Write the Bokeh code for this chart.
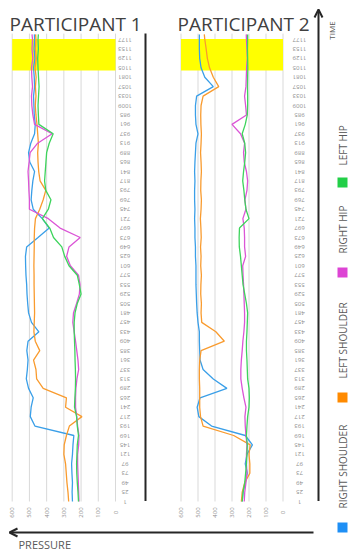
from math import pi
from bokeh.plotting import figure
from bokeh.models import Range1d, Arrow, OpenHead
from bokeh.core.properties import value
from bokeh.embed import file_html
from bokeh.resources import INLINE

# ---------------- data ----------------
time = [1, 25, 49, 73, 97, 121, 145, 169, 193, 217, 241, 265, 289, 313, 337, 361,
        385, 409, 433, 457, 481, 505, 529, 553, 577, 601, 625, 649, 673, 697, 721,
        745, 769, 793, 817, 841, 865, 889, 913, 937, 961, 985, 1009, 1033, 1057,
        1081, 1105, 1129, 1153, 1177, 1190]

time_ticks = [1, 25, 49, 73, 97, 121, 145, 169, 193, 217, 241, 265, 289, 313, 337,
              361, 385, 409, 433, 457, 481, 505, 529, 553, 577, 601, 625, 649, 673,
              697, 721, 745, 769, 793, 817, 841, 865, 889, 913, 937, 961, 985, 1009,
              1033, 1057, 1081, 1105, 1129, 1153, 1177]
pressure_ticks = [0, 100, 200, 300, 400, 500, 600]

series_names = ["RIGHT SHOULDER", "LEFT SHOULDER", "RIGHT HIP", "LEFT HIP"]
line_colors = ["#3A9FE8", "#F99B2E", "#DB55D6", "#3DD45C"]
key_colors = ["#1E8FF5", "#FF8A00", "#DD44D4", "#22CF48"]

highlight_time = [1098, 1178]
titles = ["PARTICIPANT 1", "PARTICIPANT 2"]

p1_right_shoulder = [250, 252, 250, 253, 255, 250, 247, 242, 468, 495, 490, 478, 505,
                     518, 512, 508, 515, 508, 445, 488, 505, 510, 514, 516, 520, 522,
                     523, 516, 450, 385, 425, 478, 490, 486, 480, 470, 498, 505, 492,
                     470, 466, 472, 474, 476, 470, 472, 476, 468, 473, 470, 471]
p1_left_shoulder = [272, 276, 282, 286, 290, 300, 298, 285, 268, 195, 290, 285, 420,
                    458, 462, 476, 440, 466, 474, 472, 470, 471, 472, 473, 473, 474,
                    473, 472, 472, 470, 465, 440, 420, 405, 438, 446, 450, 452, 448,
                    452, 456, 462, 466, 462, 465, 461, 467, 460, 465, 462, 464]
p1_right_hip = [212, 214, 216, 218, 220, 220, 214, 212, 220, 225, 232, 232, 230, 224,
                214, 218, 225, 232, 240, 248, 244, 226, 210, 206, 215, 262, 284, 270,
                205, 322, 390, 500, 500, 503, 505, 508, 502, 496, 452, 368, 470, 480,
                486, 488, 482, 486, 488, 480, 485, 482, 485]
p1_left_hip = [215, 218, 222, 225, 226, 224, 222, 215, 222, 226, 238, 236, 233, 232,
               233, 235, 236, 238, 240, 240, 235, 222, 200, 210, 222, 270, 295, 312,
               360, 382, 425, 390, 375, 405, 412, 408, 404, 400, 385, 362, 445, 448,
               450, 447, 444, 447, 450, 452, 448, 450, 448]

p2_right_shoulder = [240, 235, 222, 210, 222, 212, 180, 222, 420, 495, 505, 488, 330,
                     410, 470, 488, 490, 492, 492, 500, 505, 508, 510, 512, 512, 512,
                     515, 515, 518, 518, 520, 518, 520, 520, 518, 520, 518, 515, 512,
                     500, 512, 515, 515, 508, 410, 460, 482, 490, 492, 492, 492]
p2_left_shoulder = [245, 240, 225, 195, 195, 200, 193, 290, 470, 485, 490, 490, 490,
                    492, 492, 490, 482, 345, 395, 478, 482, 480, 484, 483, 480, 484,
                    482, 485, 481, 483, 486, 482, 480, 484, 483, 480, 482, 485, 482,
                    480, 483, 484, 482, 470, 378, 410, 432, 445, 452, 460, 463]
p2_right_hip = [228, 225, 218, 212, 215, 215, 212, 218, 222, 224, 218, 230, 240, 248,
                248, 245, 240, 236, 230, 226, 226, 228, 230, 232, 235, 237, 220, 226,
                226, 228, 236, 218, 224, 212, 208, 215, 228, 232, 226, 250, 300, 215,
                220, 226, 218, 216, 214, 210, 212, 215, 216]
p2_left_hip = [240, 235, 225, 220, 215, 212, 210, 215, 212, 208, 200, 198, 200, 208,
               210, 212, 215, 215, 212, 210, 208, 215, 225, 235, 240, 245, 250, 257,
               258, 256, 200, 218, 225, 230, 237, 232, 225, 220, 225, 240, 222, 210,
               208, 208, 209, 208, 207, 208, 209, 208, 208]

panels = [
    [p1_right_shoulder, p1_left_shoulder, p1_right_hip, p1_left_hip],
    [p2_right_shoulder, p2_left_shoulder, p2_right_hip, p2_left_hip],
]

# ---------------- layout (screen pixels) ----------------
# Bokeh's standalone page template sets a zero body margin, so the figure
# starts at the top-left corner of the window.
W, H = 351, 552
PX0, PX1 = 0, W
PY0, PY1 = 0, H

FONT = value("Open Sans")


def x_range_for(v_left, px_left, v_right, px_right):
    k = (v_right - v_left) / (px_right - px_left)
    return Range1d(start=v_left + (PX0 - px_left) * k, end=v_left + (PX1 - px_left) * k)


def y_range_for(v_bot, py_bot, v_top, py_top):
    k = (v_top - v_bot) / (py_top - py_bot)
    return Range1d(start=v_bot + (PY1 - py_bot) * k, end=v_bot + (PY0 - py_bot) * k)


p = figure(width=W, height=H, output_backend="svg", toolbar_location=None,
           x_axis_location=None, y_axis_location=None, min_border=0,
           x_range=Range1d(PX0, PX1), y_range=Range1d(PY1, PY0),
           outline_line_color=None, background_fill_color="white")
p.grid.visible = False

# pressure scales for the two panels: (600 at left px, 0 at right px)
panel_px = [(11.7, 115.0), (180.5, 282.5)]
p.extra_x_ranges = {
    "p1": x_range_for(600, panel_px[0][0], 0, panel_px[0][1]),
    "p2": x_range_for(600, panel_px[1][0], 0, panel_px[1][1]),
}
p.extra_y_ranges = {"t": y_range_for(1, 501.0, 1177, 39.0)}

t_top = time[-1] + 2
label_x = [124.5, 299.0]
title_x = [9, 177]

for i, (rng, series) in enumerate(zip(["p1", "p2"], panels)):
    # vertical gridlines
    p.segment(x0=pressure_ticks, x1=pressure_ticks,
              y0=[time[0]] * len(pressure_ticks), y1=[t_top] * len(pressure_ticks),
              x_range_name=rng, y_range_name="t", line_color="#D9D9D9", line_width=1)
    # yellow highlight
    p.quad(left=[pressure_ticks[-1]], right=[pressure_ticks[0]],
           bottom=[highlight_time[0]], top=[highlight_time[1]],
           x_range_name=rng, y_range_name="t", fill_color="#FFFF00", line_color=None)
    # data lines
    for vals, col in zip(series, line_colors):
        p.line(x=vals, y=time, x_range_name=rng, y_range_name="t",
               line_color=col, line_width=1.3)
    # time tick labels (upside down)
    p.text(x=[label_x[i]] * len(time_ticks), y=time_ticks,
           text=[str(t) for t in time_ticks], y_range_name="t",
           angle=pi, text_align="center", text_baseline="middle",
           text_font=FONT, text_font_size="6px", text_color="#8C8C8C")
    # pressure tick labels (rotated)
    p.text(x=pressure_ticks, y=[512] * len(pressure_ticks),
           text=[str(v) for v in pressure_ticks], x_range_name=rng,
           angle=pi / 2, text_align="center", text_baseline="middle",
           text_font=FONT, text_font_size="6px", text_color="#8C8C8C")
    # title
    p.text(x=[title_x[i]], y=[23], text=[titles[i]], text_align="left",
           text_baseline="alphabetic", text_font=FONT, text_font_size="19px",
           text_color="#404040")

AX = "#262626"
# time axis of panel 1 (plain line)
p.segment(x0=[145], y0=[500.5], x1=[145], y1=[33], line_color=AX, line_width=2)
# time axis arrow of panel 2
p.add_layout(Arrow(end=OpenHead(size=8, line_width=2, line_color=AX),
                   x_start=318, y_start=500.5, x_end=318, y_end=9,
                   line_color=AX, line_width=2))
# pressure arrow
p.add_layout(Arrow(end=OpenHead(size=8, line_width=2, line_color=AX),
                   x_start=313, y_start=532, x_end=9, y_end=532,
                   line_color=AX, line_width=2))

p.text(x=[18], y=[544], text=["PRESSURE"], text_align="left", text_baseline="middle",
       text_font=FONT, text_font_size="11px", text_color="#595959")
p.text(x=[331], y=[30], text=["TIME"], angle=pi / 2, text_align="center",
       text_baseline="middle", text_font=FONT, text_font_size="8px",
       text_color="#595959")

# legend (rotated)
key_y = [527, 397, 272, 182]
text_start_y = [508, 378, 253, 165]
p.rect(x=[342] * 4, y=key_y, width=10, height=10, fill_color=key_colors, line_color=None)
p.text(x=[342] * 4, y=text_start_y, text=series_names, angle=pi / 2,
       text_align="left", text_baseline="middle", text_font=FONT,
       text_font_size="10px", text_color="#595959")

open("out.html", "w").write(file_html(p, INLINE))
